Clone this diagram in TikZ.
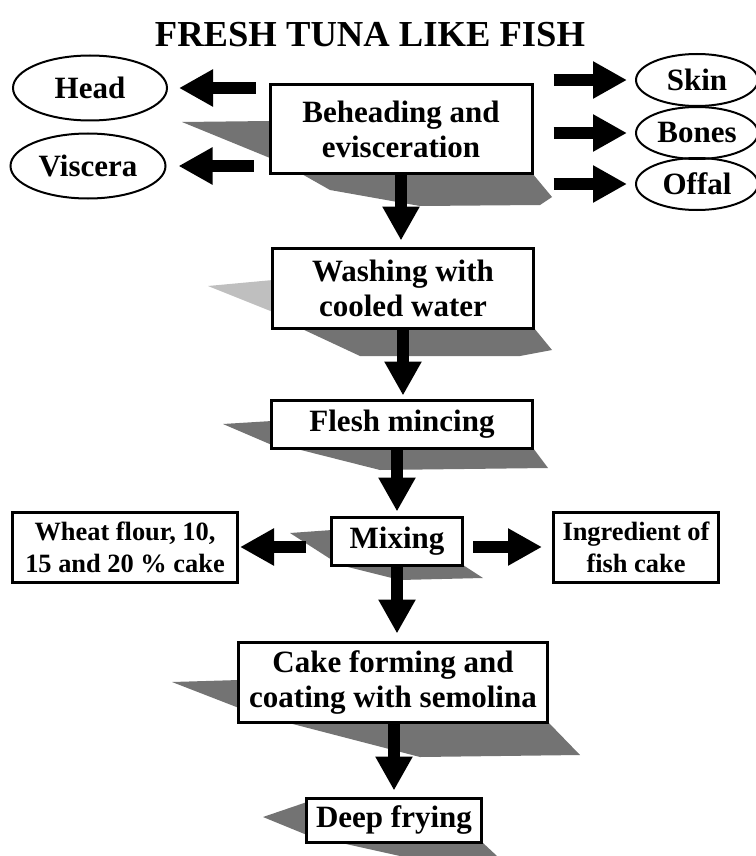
\documentclass[tikz,border=0pt]{standalone}
\usepackage{fontspec}
\setmainfont{Liberation Serif}
\usetikzlibrary{arrows.meta}
\usetikzlibrary{shapes.geometric}

\begin{document}
\begin{tikzpicture}
  [x=0.5pt,y=-0.5pt,
  stepbox/.style={rectangle,draw=black,line width=1.5pt,align=center,inner sep=0pt,
    font=\fontsize{15.5}{17.5}\selectfont\bfseries},
  sidebox/.style={stepbox,font=\fontsize{13.2}{16}\selectfont\bfseries},
  waste/.style={ellipse,draw=black,line width=1pt,inner sep=0pt,
    font=\fontsize{15.5}{17.5}\selectfont\bfseries},
  bigarrow/.style={line width=6pt,-{Triangle[width=17.5pt,length=17pt]}},
  shadow/.style={fill=black!55,draw=none},
  faintshadow/.style={fill=black!25,draw=none}]
  \useasboundingbox (0,0) rectangle (755,856);

  % shadows behind the boxes
  \fill[shadow] (182,122) -- (270,121) -- (270,158) -- cycle;
  \fill[shadow] (300,173) -- (532,173) -- (552,197) -- (540,205) -- (420,206) -- (330,190) -- cycle;
  \fill[faintshadow] (208,286) -- (273,280) -- (273,312) -- cycle;
  \fill[shadow] (300,328) -- (534,328) -- (552,350) -- (520,356) -- (360,356) -- cycle;
  \fill[shadow] (223,424) -- (272,421) -- (272,445) -- cycle;
  \fill[shadow] (293,448) -- (533,448) -- (548,468) -- (380,470) -- cycle;
  \fill[shadow] (290,533) -- (332,530) -- (332,560) -- cycle;
  \fill[shadow] (340,565) -- (463,565) -- (483,578) -- (400,580) -- cycle;
  \fill[shadow] (172,682) -- (239,680) -- (239,708) -- cycle;
  \fill[shadow] (285,722) -- (548,722) -- (580,755) -- (420,757) -- cycle;
  \fill[shadow] (263,817) -- (307,802) -- (307,835) -- cycle;
  \fill[shadow] (337,842) -- (482,842) -- (497,856) -- (400,856) -- cycle;

  \node[font=\fontsize{18.3}{20}\selectfont\bfseries] (title) at (370,35) {FRESH TUNA LIKE FISH};

  \node[waste,minimum width=77pt,minimum height=32.5pt] (head) at (90,88) {Head};
  \node[waste,minimum width=77.5pt,minimum height=32.5pt] (visc) at (88,166) {Viscera};
  \node[stepbox,minimum width=131pt,minimum height=44pt] (behead) at (401,129) {Beheading and\\evisceration};
  \node[waste,minimum width=61pt,minimum height=26pt] (skin) at (697,80) {Skin};
  \node[waste,minimum width=61pt,minimum height=26pt] (bones) at (697,133) {Bones};
  \node[waste,minimum width=61pt,minimum height=26pt] (offal) at (697,184) {Offal};

  \node[stepbox,minimum width=130.5pt,minimum height=40pt] (wash) at (403,288) {Washing with\\cooled water};
  \node[stepbox,minimum width=130.5pt,minimum height=24pt] (mince) at (402,424) {Flesh mincing};
  \node[stepbox,minimum width=65.5pt,minimum height=24pt] (mix) at (397,541) {Mixing};
  \node[sidebox,minimum width=112.5pt,minimum height=35pt] (flour) at (125,547) {Wheat flour, 10,\\15 and 20 \% cake};
  \node[sidebox,minimum width=82.5pt,minimum height=35pt] (ingr) at (636,547) {Ingredient of\\fish cake};
  \node[stepbox,minimum width=154.5pt,minimum height=40pt] (cake) at (393,682) {Cake forming and\\coating with semolina};
  \node[stepbox,minimum width=87.5pt,minimum height=22pt] (fry) at (394,820) {Deep frying};

  \draw[bigarrow,shorten <=6.5pt,shorten >=5.5pt] (behead.west |- head) -- (head.east);
  \draw[bigarrow,shorten <=7.5pt,shorten >=6pt] (behead.west |- visc) -- (visc.east);
  \draw[bigarrow,shorten <=10pt,shorten >=4pt] (behead.east |- skin.west) -- (skin.west);
  \draw[bigarrow,shorten <=10pt,shorten >=4pt] (behead.east |- bones.west) -- (bones.west);
  \draw[bigarrow,shorten <=10pt,shorten >=4pt] (behead.east |- offal.west) -- (offal.west);

  \draw[bigarrow,shorten >=3pt] (behead.south) -- (behead.south |- wash.north);
  \draw[bigarrow,shorten >=1.5pt] (wash.south) -- (wash.south |- mince.north);
  \draw[bigarrow,shorten >=2pt] (mince.south -| mix) -- (mix.north);
  \draw[bigarrow,shorten <=12pt,shorten >=0.5pt] (mix.west |- flour) -- (flour.east);
  \draw[bigarrow,shorten <=4.5pt,shorten >=5pt] (mix.east |- ingr) -- (ingr.west);
  \draw[bigarrow,shorten >=3.5pt] (mix.south) -- (mix.south |- cake.north);
  \draw[bigarrow,shorten >=3pt] (cake.south -| fry) -- (fry.north);
\end{tikzpicture}
\end{document}
